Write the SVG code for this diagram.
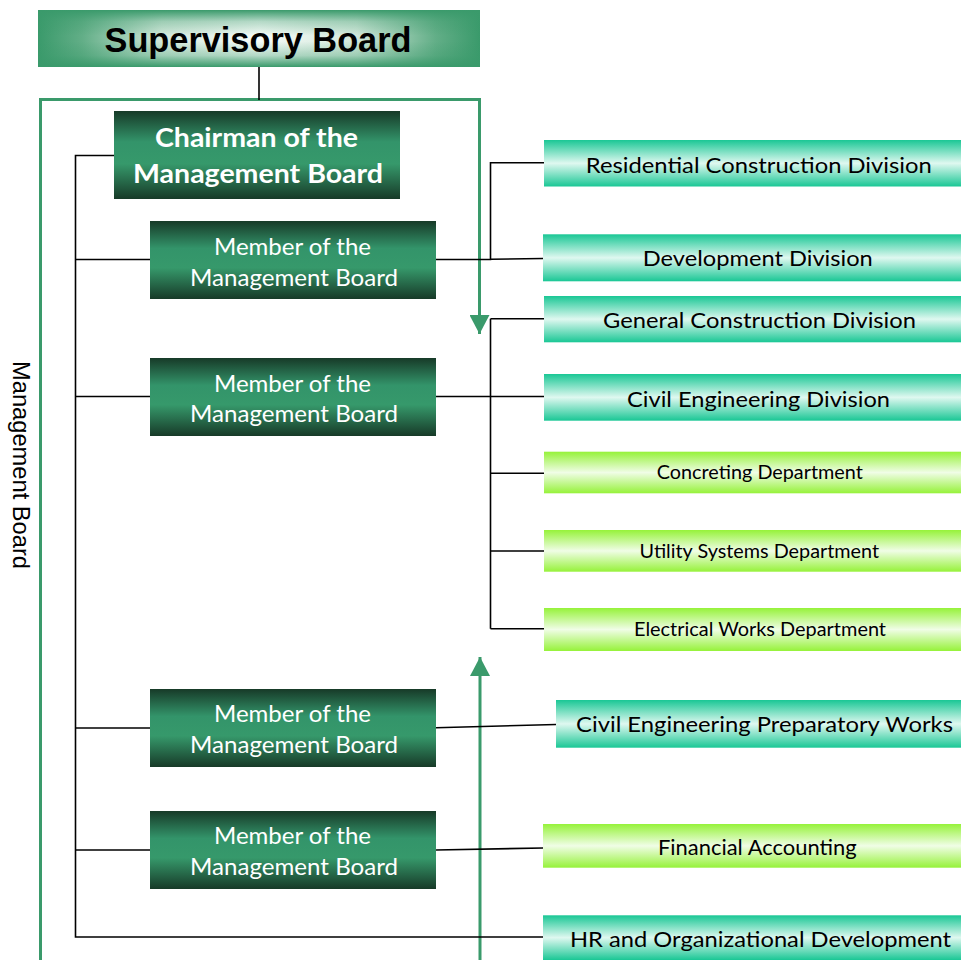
<svg xmlns="http://www.w3.org/2000/svg" width="961" height="960" viewBox="0 0 961 960">
<defs>
<linearGradient id="gSupH" x1="0" y1="0" x2="1" y2="0">
<stop offset="0" stop-color="#3a9a6b"/>
<stop offset="0.1" stop-color="#62ae87"/>
<stop offset="0.28" stop-color="#d2e8db"/>
<stop offset="0.5" stop-color="#f6fbf8"/>
<stop offset="0.72" stop-color="#d2e8db"/>
<stop offset="0.9" stop-color="#62ae87"/>
<stop offset="1" stop-color="#3a9a6b"/>
</linearGradient>
<linearGradient id="gSupV" x1="0" y1="0" x2="0" y2="1">
<stop offset="0" stop-color="#3a9a6b" stop-opacity="1"/>
<stop offset="0.2" stop-color="#3a9a6b" stop-opacity="0.35"/>
<stop offset="0.45" stop-color="#3a9a6b" stop-opacity="0"/>
<stop offset="0.55" stop-color="#3a9a6b" stop-opacity="0"/>
<stop offset="0.8" stop-color="#3a9a6b" stop-opacity="0.35"/>
<stop offset="1" stop-color="#3a9a6b" stop-opacity="1"/>
</linearGradient>
<linearGradient id="gDark" x1="0" y1="0" x2="0" y2="1">
<stop offset="0" stop-color="#173a28"/>
<stop offset="0.35" stop-color="#33946a"/>
<stop offset="0.6" stop-color="#36996b"/>
<stop offset="1" stop-color="#173a28"/>
</linearGradient>
<linearGradient id="gTeal" x1="0" y1="0" x2="0" y2="1">
<stop offset="0" stop-color="#1ac795"/>
<stop offset="0.5" stop-color="#dff8f0"/>
<stop offset="1" stop-color="#1ac795"/>
</linearGradient>
<linearGradient id="gLime" x1="0" y1="0" x2="0" y2="1">
<stop offset="0" stop-color="#96f23a"/>
<stop offset="0.5" stop-color="#f0fde6"/>
<stop offset="1" stop-color="#96f23a"/>
</linearGradient>
<marker id="arr" viewBox="0 0 19 20" refX="19" refY="10" markerWidth="19" markerHeight="20" markerUnits="userSpaceOnUse" orient="auto">
<path d="M0,0 L19,10 L0,20 z" fill="#3a9a6b"/>
</marker>
<style>
.dark{fill:url(#gDark)}
.teal{fill:url(#gTeal)}
.lime{fill:url(#gLime)}
.wt{font-family:Lato,"Open Sans",sans-serif;fill:#ffffff;text-anchor:middle}
.bt{font-family:Lato,"Open Sans",sans-serif;fill:#000000;text-anchor:middle}
.con{stroke:#000000;stroke-width:1.6;fill:none}
.frame{stroke:#3a9a6b;stroke-width:3;fill:none}
</style>
</defs>
<rect width="961" height="960" fill="#ffffff"/>

<g id="connectors">
<path class="frame" d="M40.5 960 V99.5 H479.5 V334" marker-end="url(#arr)"/>
<path class="frame" d="M480 960 V657" marker-end="url(#arr)"/>
<path class="con" d="M259 67 V100"/>
<path class="con" d="M114 155.5 H75.5 V937 H543" stroke-width="2"/>
<path class="con" d="M75.5 259.5 H150"/>
<path class="con" d="M75.5 396.5 H150"/>
<path class="con" d="M75.5 728 H150"/>
<path class="con" d="M75.5 850 H150"/>
<path class="con" d="M436 259.5 H490.5 V162.7 H544"/>
<path class="con" d="M490.5 259.2 L543 258.5"/>
<path class="con" d="M436 396.5 H544"/>
<path class="con" d="M490.5 318.7 V628.7"/>
<path class="con" d="M490.5 318.7 H544 M490.5 473.3 H544 M490.5 551 H544 M490.5 628.7 H544"/>
<path class="con" d="M436 727.7 L556 724.5"/>
<path class="con" d="M436 850 L543 848"/>
</g>

<g id="supervisory-board">
<rect x="38" y="10" width="442" height="57" fill="url(#gSupH)"/>
<rect x="38" y="10" width="442" height="57" fill="url(#gSupV)"/>
<text x="258" y="51.7" font-family="'Liberation Sans',Arial,sans-serif" font-weight="bold" font-size="34.5" text-anchor="middle" fill="#000000" textLength="307" lengthAdjust="spacingAndGlyphs">Supervisory Board</text>
</g>

<g id="management-board-label">
<text transform="translate(13,465) rotate(90)" font-family="'Liberation Sans',Arial,sans-serif" font-size="23.7" text-anchor="middle" fill="#000000" textLength="208" lengthAdjust="spacingAndGlyphs">Management Board</text>
</g>

<g id="chairman">
<rect class="dark" x="114" y="111" width="286" height="88"/>
<text class="wt" x="256.5" y="147.3" font-size="26" font-weight="bold" textLength="203" lengthAdjust="spacingAndGlyphs">Chairman of the</text>
<text class="wt" x="258" y="183.3" font-size="26" font-weight="bold" textLength="250" lengthAdjust="spacingAndGlyphs">Management Board</text>
</g>

<g id="member-1">
<rect class="dark" x="150" y="221" width="286" height="78"/>
<text class="wt" x="292.5" y="255" font-size="22.5" textLength="157" lengthAdjust="spacingAndGlyphs">Member of the</text>
<text class="wt" x="294" y="285.7" font-size="22.5" textLength="208" lengthAdjust="spacingAndGlyphs">Management Board</text>
</g>

<g id="member-2">
<rect class="dark" x="150" y="358" width="286" height="78"/>
<text class="wt" x="292.5" y="391.5" font-size="22.5" textLength="157" lengthAdjust="spacingAndGlyphs">Member of the</text>
<text class="wt" x="294" y="422.2" font-size="22.5" textLength="208" lengthAdjust="spacingAndGlyphs">Management Board</text>
</g>

<g id="member-3">
<rect class="dark" x="150" y="689" width="286" height="78"/>
<text class="wt" x="292.5" y="722" font-size="22.5" textLength="157" lengthAdjust="spacingAndGlyphs">Member of the</text>
<text class="wt" x="294" y="752.7" font-size="22.5" textLength="208" lengthAdjust="spacingAndGlyphs">Management Board</text>
</g>

<g id="member-4">
<rect class="dark" x="150" y="811" width="286" height="78"/>
<text class="wt" x="292.5" y="844" font-size="22.5" textLength="157" lengthAdjust="spacingAndGlyphs">Member of the</text>
<text class="wt" x="294" y="874.7" font-size="22.5" textLength="208" lengthAdjust="spacingAndGlyphs">Management Board</text>
</g>

<g id="residential-construction">
<rect class="teal" x="544" y="140" width="417" height="46.5"/>
<text class="bt" x="758.8" y="172.7" font-size="22" textLength="346" lengthAdjust="spacingAndGlyphs">Residential Construction Division</text>
</g>

<g id="development">
<rect class="teal" x="543" y="234.3" width="418" height="47"/>
<text class="bt" x="757.8" y="266" font-size="22" textLength="230" lengthAdjust="spacingAndGlyphs">Development Division</text>
</g>

<g id="general-construction">
<rect class="teal" x="544" y="296" width="417" height="46.3"/>
<text class="bt" x="759.5" y="328.3" font-size="22" textLength="313" lengthAdjust="spacingAndGlyphs">General Construction Division</text>
</g>

<g id="civil-engineering">
<rect class="teal" x="544" y="374" width="417" height="46.7"/>
<text class="bt" x="758.5" y="406.7" font-size="22" textLength="263" lengthAdjust="spacingAndGlyphs">Civil Engineering Division</text>
</g>

<g id="concreting">
<rect class="lime" x="544" y="451.7" width="417" height="41.6"/>
<text class="bt" x="759.8" y="479.3" font-size="18.5" textLength="206" lengthAdjust="spacingAndGlyphs">Concreting Department</text>
</g>

<g id="utility-systems">
<rect class="lime" x="544" y="530" width="417" height="41.7"/>
<text class="bt" x="759.3" y="557.7" font-size="18.5" textLength="239.5" lengthAdjust="spacingAndGlyphs">Utility Systems Department</text>
</g>

<g id="electrical-works">
<rect class="lime" x="544" y="608" width="417" height="43"/>
<text class="bt" x="760" y="636" font-size="18.5" textLength="252" lengthAdjust="spacingAndGlyphs">Electrical Works Department</text>
</g>

<g id="civil-engineering-preparatory">
<rect class="teal" x="556" y="700" width="405" height="47.7"/>
<text class="bt" x="764.5" y="731.7" font-size="21.5" textLength="377" lengthAdjust="spacingAndGlyphs">Civil Engineering Preparatory Works</text>
</g>

<g id="financial-accounting">
<rect class="lime" x="543" y="824" width="418" height="43.7"/>
<text class="bt" x="757.3" y="855" font-size="21.5" textLength="198.6" lengthAdjust="spacingAndGlyphs">Financial Accounting</text>
</g>

<g id="hr-development">
<rect class="teal" x="543" y="915.3" width="418" height="44.7"/>
<text class="bt" x="760.5" y="946.7" font-size="21.5" textLength="381" lengthAdjust="spacingAndGlyphs">HR and Organizational Development</text>
</g>
</svg>
